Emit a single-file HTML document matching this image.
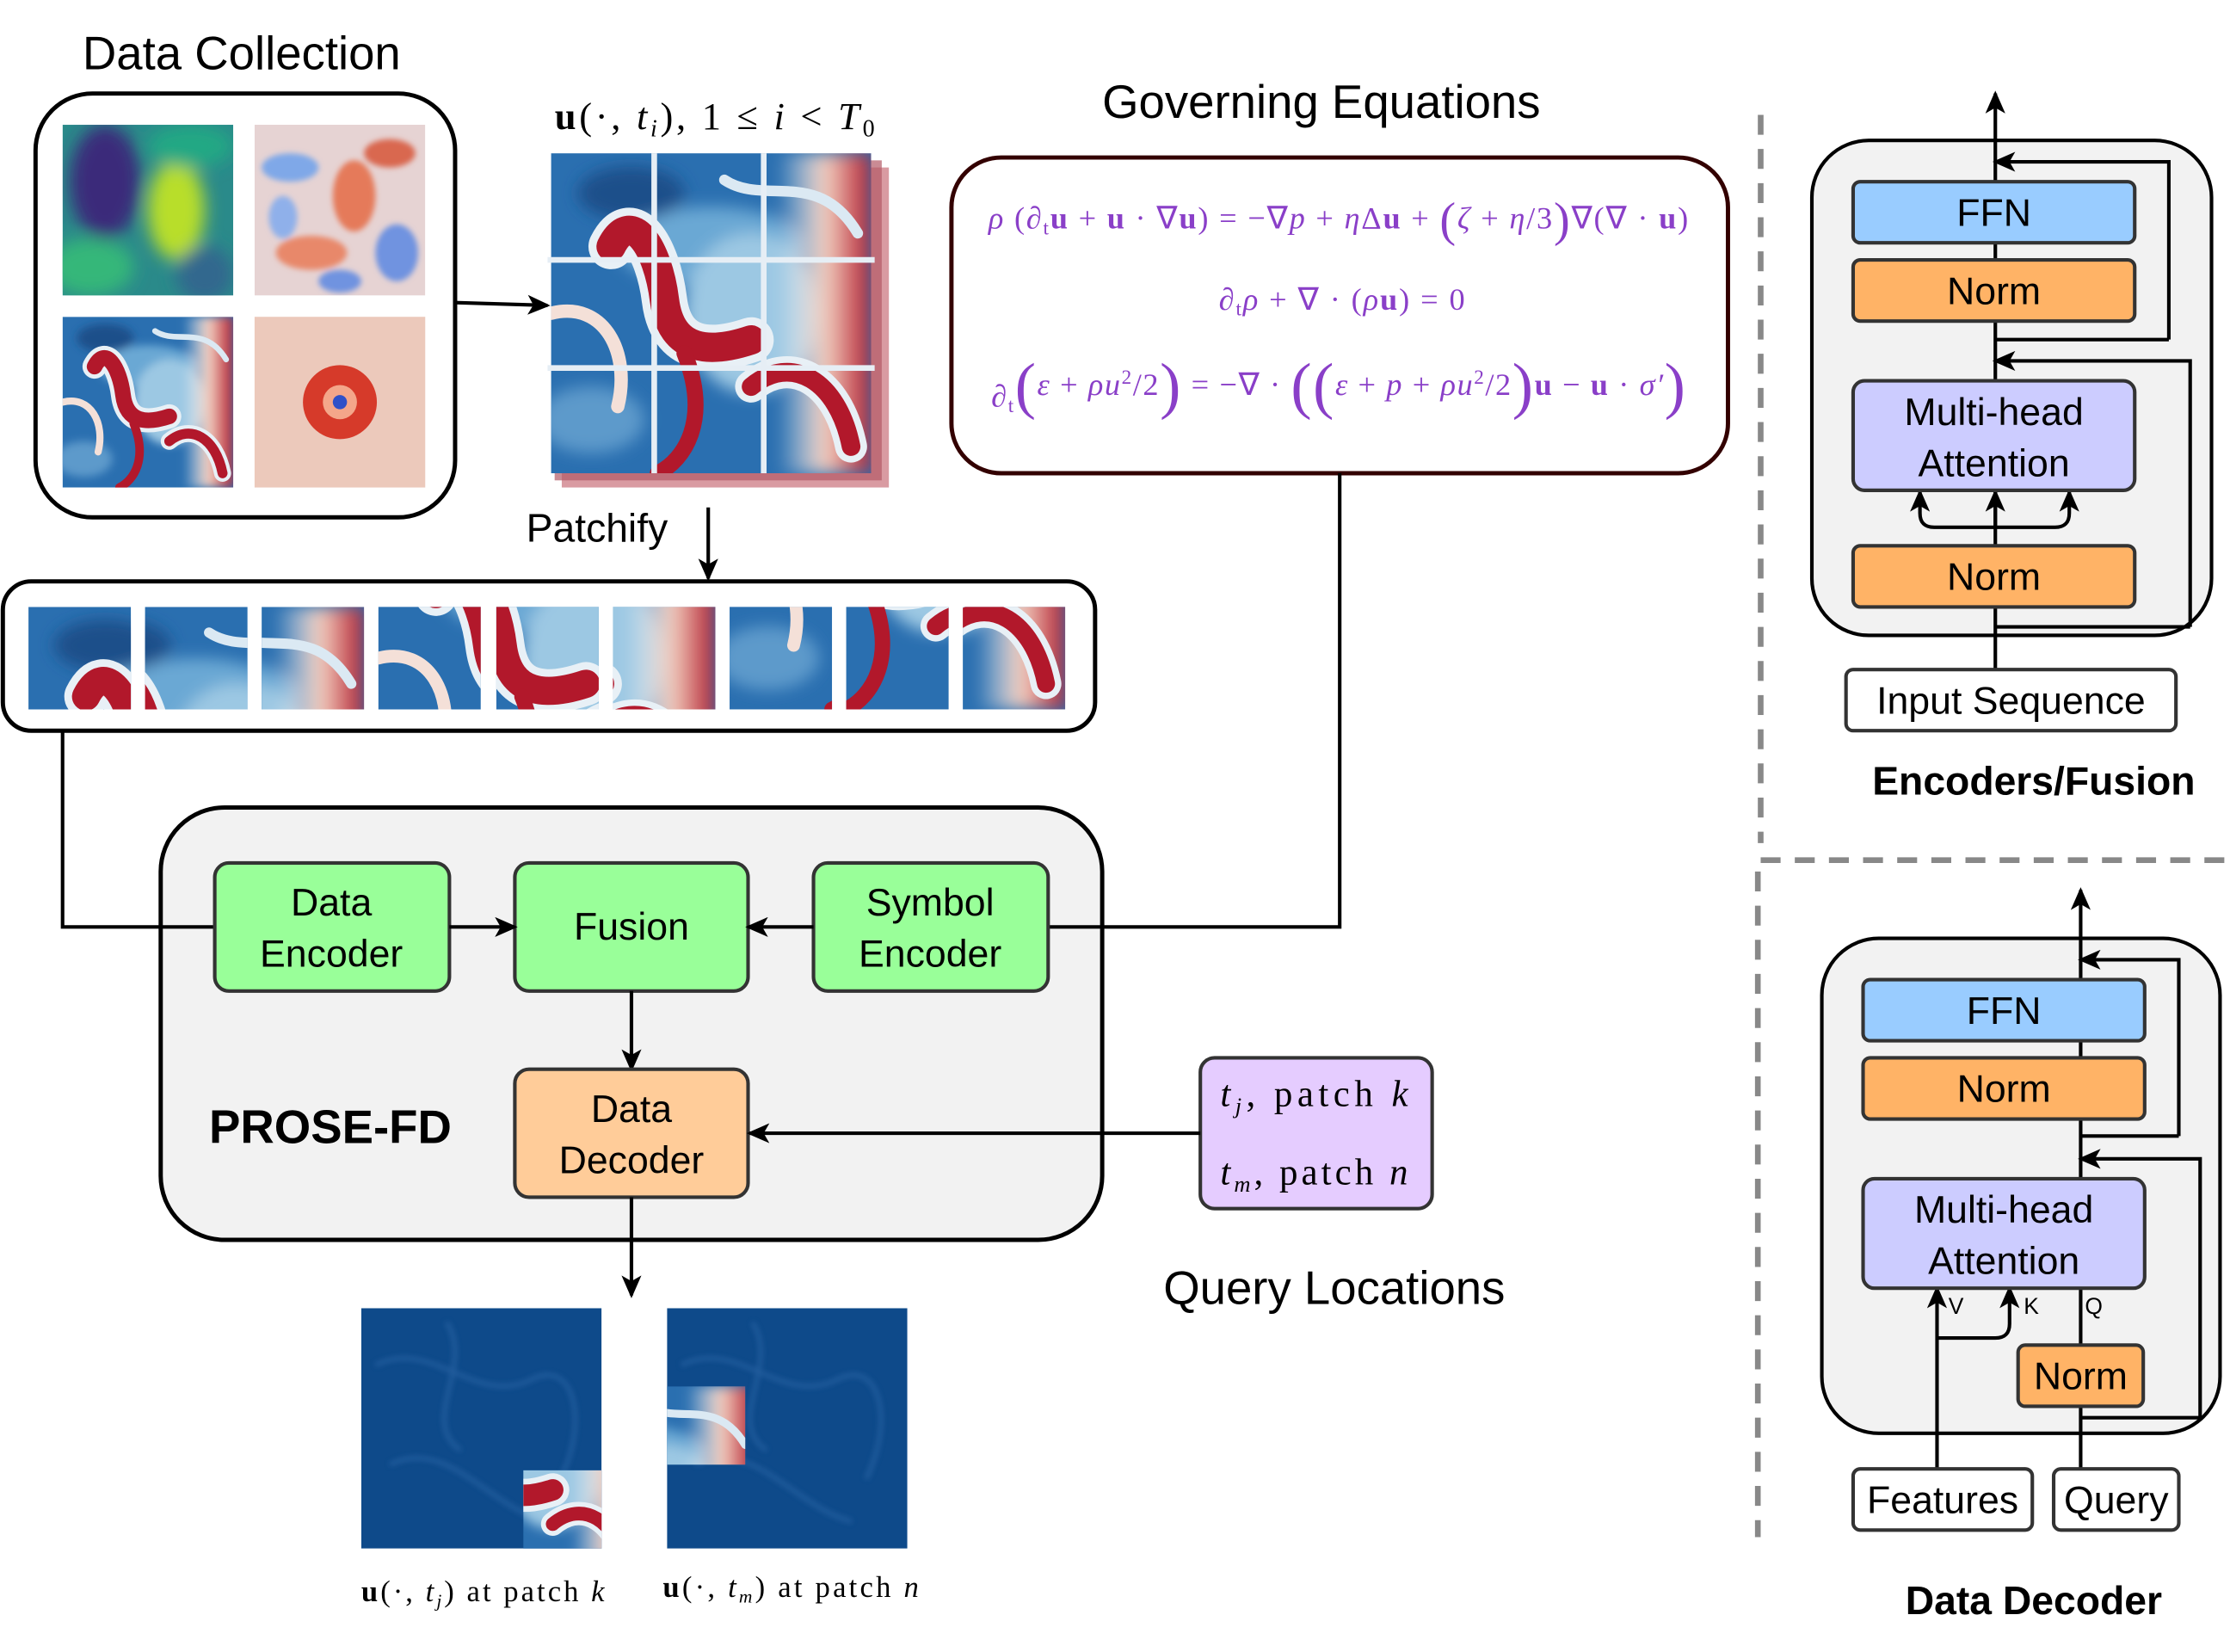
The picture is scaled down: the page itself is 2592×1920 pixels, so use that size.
<!DOCTYPE html>
<html><head><meta charset="utf-8"><style>
html,body{margin:0;padding:0;background:#fff}
svg{display:block}
text{font-family:"Liberation Sans",sans-serif}
.m{font-family:"Liberation Serif",serif;fill:#8a3fc8}
.mb{font-family:"Liberation Serif",serif;fill:#000}
</style></head><body>
<svg width="2592" height="1920" viewBox="0 0 1568 1160" xmlns="http://www.w3.org/2000/svg">
<defs>
<marker id="ar" markerWidth="16" markerHeight="14" refX="14" refY="7" orient="auto" markerUnits="userSpaceOnUse"><path d="M0,0 L16,7 L0,14 L4,7 Z" fill="#000"/></marker>
<filter id="bl" x="-20%" y="-20%" width="140%" height="140%"><feGaussianBlur stdDeviation="6"/></filter>
<filter id="bl2"><feGaussianBlur stdDeviation="2"/></filter>
<linearGradient id="rg" x1="0" x2="1"><stop offset="0" stop-color="#fff" stop-opacity="0"/><stop offset="0.5" stop-color="#f4d0c0"/><stop offset="1" stop-color="#b2182b"/></linearGradient>
<clipPath id="c240"><rect width="240" height="240"/></clipPath>
<g id="flow" clip-path="url(#c240)">
<rect width="240" height="240" fill="#2a6fb0"/>
<g filter="url(#bl)">
<ellipse cx="120" cy="70" rx="70" ry="30" fill="#6aa8d4"/>
<ellipse cx="150" cy="120" rx="50" ry="60" fill="#9cc8e3"/>
<rect x="170" y="0" width="70" height="240" fill="url(#rg)"/>
<ellipse cx="30" cy="200" rx="40" ry="25" fill="#5d9acb"/>
<ellipse cx="60" cy="30" rx="40" ry="20" fill="#1b4f8a"/>
</g>
<g fill="none" stroke-linecap="round">
<path d="M45,70 C60,40 80,70 85,110 C90,150 120,150 150,140" stroke="#e8f0f6" stroke-width="34"/>
<path d="M45,70 C60,40 80,70 85,110 C90,150 120,150 150,140" stroke="#b2182b" stroke-width="22"/>
<path d="M150,175 C180,150 215,170 225,220" stroke="#e8f0f6" stroke-width="24"/>
<path d="M150,175 C180,150 215,170 225,220" stroke="#b2182b" stroke-width="14"/>
<path d="M0,120 C40,110 60,150 50,190" stroke="#f4e0d8" stroke-width="10"/>
<path d="M100,150 C120,200 100,230 80,240" stroke="#b2182b" stroke-width="12"/>
<path d="M130,20 C160,40 200,10 230,60" stroke="#dbe9f3" stroke-width="8"/>
</g>
</g>
<g id="dark">
<rect width="169" height="169" fill="#0e4a8a"/>
<g fill="none" stroke="#2a65a5" stroke-width="3" opacity="0.7" filter="url(#bl2)">
<path d="M10,40 C50,20 80,70 120,50 C150,35 160,80 140,120"/>
<path d="M20,110 C60,90 90,140 130,150"/>
<path d="M60,10 C80,40 40,80 70,100"/>
</g>
</g>
</defs>

<!-- Data Collection -->
<text x="58" y="48" font-size="33">Data Collection</text>
<rect x="25" y="65" width="295" height="298" rx="40" fill="#fff" stroke="#000" stroke-width="3"/>
<svg x="44" y="87" width="120" height="120" viewBox="0 0 120 120">
<rect width="120" height="120" fill="#2a8a8a"/>
<g filter="url(#bl)"><ellipse cx="30" cy="40" rx="25" ry="40" fill="#3b2a7a"/><ellipse cx="80" cy="60" rx="20" ry="35" fill="#b8de29"/><ellipse cx="90" cy="15" rx="30" ry="15" fill="#22a884"/><ellipse cx="20" cy="100" rx="30" ry="20" fill="#35b779"/><ellipse cx="100" cy="105" rx="20" ry="20" fill="#31688e"/></g>
</svg>
<svg x="179" y="87" width="120" height="120" viewBox="0 0 120 120">
<rect width="120" height="120" fill="#e6d3d3"/>
<g filter="url(#bl2)"><ellipse cx="25" cy="30" rx="20" ry="10" fill="#7fa8e8"/><ellipse cx="70" cy="50" rx="15" ry="25" fill="#e57a5a"/><ellipse cx="100" cy="90" rx="15" ry="20" fill="#6f93e0"/><ellipse cx="40" cy="90" rx="25" ry="12" fill="#e8886a"/><ellipse cx="95" cy="20" rx="18" ry="10" fill="#d96850"/><ellipse cx="20" cy="65" rx="10" ry="15" fill="#8fb0ea"/><ellipse cx="60" cy="110" rx="15" ry="8" fill="#6f93e0"/></g>
</svg>
<svg x="44" y="222" width="120" height="120" viewBox="0 0 240 240"><use href="#flow"/></svg>
<rect x="179" y="222" width="120" height="120" fill="#ecc9bb"/>
<circle cx="239" cy="282" r="26" fill="#d63a2a"/>
<circle cx="239" cy="282" r="12" fill="#f4a68a"/>
<circle cx="239" cy="282" r="5" fill="#3050c8"/>
<line x1="320" y1="212" x2="385" y2="214" stroke="#000" stroke-width="2.5" marker-end="url(#ar)"/>

<!-- snapshots -->
<text x="390" y="90" class="mb" font-size="27" textLength="225" lengthAdjust="spacing"><tspan font-weight="bold">u</tspan>(·, <tspan font-style="italic">t</tspan><tspan font-size="17" font-style="italic" dy="5">i</tspan><tspan dy="-5">), 1 ≤ </tspan><tspan font-style="italic">i</tspan> &lt; <tspan font-style="italic">T</tspan><tspan font-size="17" dy="5">0</tspan></text>
<rect x="395" y="117" width="230" height="225" fill="#c9707a" opacity="0.7"/>
<rect x="390" y="112" width="230" height="225" fill="#b45a66" opacity="0.7"/>
<svg x="385" y="107" width="230" height="225" viewBox="0 0 240 240"><use href="#flow"/></svg>
<g stroke="#e6eef5" stroke-width="4"><line x1="460" y1="107" x2="460" y2="332"/><line x1="537" y1="107" x2="537" y2="332"/><line x1="385" y1="182" x2="615" y2="182"/><line x1="385" y1="258" x2="615" y2="258"/></g>
<text x="370" y="380" font-size="28">Patchify</text>
<line x1="498" y1="356" x2="498" y2="406" stroke="#000" stroke-width="2.5" marker-end="url(#ar)"/>

<!-- patches -->
<rect x="2" y="408" width="768" height="105" rx="20" fill="#fff" stroke="#000" stroke-width="3"/>
<svg x="20" y="426" width="72" height="72" viewBox="0 0 80 80"><use href="#flow"/></svg>
<svg x="102" y="426" width="72" height="72" viewBox="80 0 80 80"><use href="#flow"/></svg>
<svg x="184" y="426" width="72" height="72" viewBox="160 0 80 80"><use href="#flow"/></svg>
<svg x="266" y="426" width="72" height="72" viewBox="0 80 80 80"><use href="#flow"/></svg>
<svg x="349" y="426" width="72" height="72" viewBox="80 80 80 80"><use href="#flow"/></svg>
<svg x="431" y="426" width="72" height="72" viewBox="160 80 80 80"><use href="#flow"/></svg>
<svg x="513" y="426" width="72" height="72" viewBox="0 160 80 80"><use href="#flow"/></svg>
<svg x="595" y="426" width="72" height="72" viewBox="80 160 80 80"><use href="#flow"/></svg>
<svg x="677" y="426" width="72" height="72" viewBox="160 160 80 80"><use href="#flow"/></svg>

<!-- Governing equations -->
<text x="775" y="82" font-size="33">Governing Equations</text>
<rect x="669" y="110" width="546" height="222" rx="35" fill="#fff" stroke="#330000" stroke-width="3"/>
<text x="695" y="160" class="m" font-size="22" textLength="492" lengthAdjust="spacing"><tspan font-style="italic">ρ</tspan> (∂<tspan font-size="14" dy="4">t</tspan><tspan dy="-4" font-weight="bold">u</tspan> + <tspan font-weight="bold">u</tspan> · ∇<tspan font-weight="bold">u</tspan>) = −∇<tspan font-style="italic">p</tspan> + <tspan font-style="italic">η</tspan>Δ<tspan font-weight="bold">u</tspan> + <tspan font-size="34" dy="5">(</tspan><tspan dy="-5" font-style="italic">ζ</tspan> + <tspan font-style="italic">η</tspan>/3<tspan font-size="34" dy="5">)</tspan><tspan dy="-5">∇(∇ · </tspan><tspan font-weight="bold">u</tspan>)</text>
<text x="857" y="217" class="m" font-size="22" textLength="173" lengthAdjust="spacing">∂<tspan font-size="14" dy="4">t</tspan><tspan dy="-4" font-style="italic">ρ</tspan> + ∇ · (<tspan font-style="italic">ρ</tspan><tspan font-weight="bold">u</tspan>) = 0</text>
<text x="697" y="285" class="m" font-size="22" textLength="488" lengthAdjust="spacing">∂<tspan font-size="14" dy="4">t</tspan><tspan dy="-4" font-size="44" dy="8">(</tspan><tspan dy="-8" font-style="italic">ε</tspan> + <tspan font-style="italic">ρu</tspan><tspan font-size="14" dy="-8">2</tspan><tspan dy="8">/2</tspan><tspan font-size="44" dy="8">)</tspan><tspan dy="-8"> = −∇ · </tspan><tspan font-size="44" dy="8">((</tspan><tspan dy="-8" font-style="italic">ε</tspan> + <tspan font-style="italic">p</tspan> + <tspan font-style="italic">ρu</tspan><tspan font-size="14" dy="-8">2</tspan><tspan dy="8">/2</tspan><tspan font-size="44" dy="8">)</tspan><tspan dy="-8" font-weight="bold">u</tspan> − <tspan font-weight="bold">u</tspan> · <tspan font-style="italic">σ′</tspan><tspan font-size="44" dy="8">)</tspan></text>

<!-- PROSE-FD -->
<rect x="113" y="567" width="662" height="304" rx="45" fill="#f2f2f2" stroke="#000" stroke-width="3"/>
<polyline points="44,513 44,651 151,651" fill="none" stroke="#000" stroke-width="2.5"/>
<polyline points="942,332 942,651 737,651" fill="none" stroke="#000" stroke-width="2.5"/>
<rect x="151" y="606" width="165" height="90" rx="10" fill="#99ff99" stroke="#333" stroke-width="2.5"/>
<rect x="362" y="606" width="164" height="90" rx="10" fill="#99ff99" stroke="#333" stroke-width="2.5"/>
<rect x="572" y="606" width="165" height="90" rx="10" fill="#99ff99" stroke="#333" stroke-width="2.5"/>
<text font-size="27" text-anchor="middle"><tspan x="233" y="643">Data</tspan><tspan x="233" y="679">Encoder</tspan></text>
<text x="444" y="660" font-size="27" text-anchor="middle">Fusion</text>
<text font-size="27" text-anchor="middle"><tspan x="654" y="643">Symbol</tspan><tspan x="654" y="679">Encoder</tspan></text>
<line x1="316" y1="651" x2="362" y2="651" stroke="#000" stroke-width="2.5" marker-end="url(#ar)"/>
<line x1="572" y1="651" x2="526" y2="651" stroke="#000" stroke-width="2.5" marker-end="url(#ar)"/>
<line x1="444" y1="696" x2="444" y2="751" stroke="#000" stroke-width="2.5" marker-end="url(#ar)"/>
<rect x="362" y="751" width="164" height="90" rx="10" fill="#ffcc99" stroke="#333" stroke-width="2.5"/>
<text font-size="27" text-anchor="middle"><tspan x="444" y="788">Data</tspan><tspan x="444" y="824">Decoder</tspan></text>
<text x="147" y="803" font-size="33" font-weight="bold">PROSE-FD</text>
<rect x="844" y="743" width="163" height="106" rx="10" fill="#e5ccff" stroke="#333" stroke-width="2.5"/>
<text x="858" y="777" class="mb" font-size="26" textLength="132" lengthAdjust="spacing"><tspan font-style="italic">t</tspan><tspan font-size="16" font-style="italic" dy="5">j</tspan><tspan dy="-5">, patch </tspan><tspan font-style="italic">k</tspan></text>
<text x="858" y="832" class="mb" font-size="26" textLength="132" lengthAdjust="spacing"><tspan font-style="italic">t</tspan><tspan font-size="16" font-style="italic" dy="5">m</tspan><tspan dy="-5">, patch </tspan><tspan font-style="italic">n</tspan></text>
<line x1="844" y1="796" x2="527" y2="796" stroke="#000" stroke-width="2.5" marker-end="url(#ar)"/>
<text x="818" y="916" font-size="33">Query Locations</text>
<line x1="444" y1="841" x2="444" y2="910" stroke="#000" stroke-width="2.5" marker-end="url(#ar)"/>

<!-- outputs -->
<svg x="254" y="919" width="169" height="169"><use href="#dark"/></svg>
<svg x="368" y="1033" width="55" height="55" viewBox="120 120 80 80"><use href="#flow"/></svg>
<svg x="469" y="919" width="169" height="169"><use href="#dark"/></svg>
<svg x="469" y="974" width="55" height="55" viewBox="150 0 80 80"><use href="#flow"/></svg>
<text x="254" y="1125" class="mb" font-size="21" textLength="171" lengthAdjust="spacing"><tspan font-weight="bold">u</tspan>(·, <tspan font-style="italic">t</tspan><tspan font-size="13" font-style="italic" dy="4">j</tspan><tspan dy="-4">) at patch </tspan><tspan font-style="italic">k</tspan></text>
<text x="466" y="1122" class="mb" font-size="21" textLength="180" lengthAdjust="spacing"><tspan font-weight="bold">u</tspan>(·, <tspan font-style="italic">t</tspan><tspan font-size="13" font-style="italic" dy="4">m</tspan><tspan dy="-4">) at patch </tspan><tspan font-style="italic">n</tspan></text>

<!-- dashed dividers -->
<g stroke="#888" stroke-width="4" stroke-dasharray="14,10" fill="none">
<line x1="1238" y1="80" x2="1238" y2="592"/>
<line x1="1238" y1="604" x2="1568" y2="604"/>
<line x1="1236" y1="612" x2="1236" y2="1080"/>
</g>

<!-- Encoder block -->
<rect x="1274" y="98" width="281" height="348" rx="40" fill="#f2f2f2" stroke="#000" stroke-width="2.5"/>
<g fill="none" stroke="#000" stroke-width="2.5">
<line x1="1403" y1="470" x2="1403" y2="65" marker-end="url(#ar)"/>
<polyline points="1525,238 1525,113 1403,113" marker-end="url(#ar)"/>
<polyline points="1403,238 1525,238"/>
<polyline points="1540,440 1540,253 1403,253" marker-end="url(#ar)"/>
<polyline points="1403,440 1540,440"/>
<path d="M1403,370 L1360,370 Q1350,370 1350,360 L1350,345" marker-end="url(#ar)"/>
<path d="M1403,370 L1445,370 Q1455,370 1455,360 L1455,345" marker-end="url(#ar)"/>
<line x1="1403" y1="370" x2="1403" y2="345" marker-end="url(#ar)"/>
</g>
<rect x="1303" y="127" width="198" height="43" rx="5" fill="#99ccff" stroke="#333" stroke-width="2.5"/>
<rect x="1303" y="182" width="198" height="43" rx="5" fill="#ffb366" stroke="#333" stroke-width="2.5"/>
<rect x="1303" y="267" width="198" height="77" rx="8" fill="#ccccff" stroke="#333" stroke-width="2.5"/>
<rect x="1303" y="383" width="198" height="43" rx="5" fill="#ffb366" stroke="#333" stroke-width="2.5"/>
<rect x="1298" y="470" width="232" height="43" rx="5" fill="#fff" stroke="#333" stroke-width="2.5"/>
<text x="1402" y="158" font-size="27" text-anchor="middle">FFN</text>
<text x="1402" y="213" font-size="27" text-anchor="middle">Norm</text>
<text font-size="27" text-anchor="middle"><tspan x="1402" y="298">Multi-head</tspan><tspan x="1402" y="334">Attention</tspan></text>
<text x="1402" y="414" font-size="27" text-anchor="middle">Norm</text>
<text x="1414" y="501" font-size="27" text-anchor="middle">Input Sequence</text>
<text x="1430" y="558" font-size="28" font-weight="bold" text-anchor="middle">Encoders/Fusion</text>

<!-- Decoder block -->
<rect x="1281" y="659" width="280" height="348" rx="40" fill="#f2f2f2" stroke="#000" stroke-width="2.5"/>
<g fill="none" stroke="#000" stroke-width="2.5">
<line x1="1463" y1="1032" x2="1463" y2="625" marker-end="url(#ar)"/>
<polyline points="1532,798 1532,674 1463,674" marker-end="url(#ar)"/>
<polyline points="1463,798 1532,798"/>
<polyline points="1547,996 1547,814 1463,814" marker-end="url(#ar)"/>
<polyline points="1463,996 1547,996"/>
<line x1="1362" y1="1032" x2="1362" y2="905" marker-end="url(#ar)"/>
<path d="M1362,940 L1403,940 Q1413,940 1413,930 L1413,905" marker-end="url(#ar)"/>
</g>
<rect x="1310" y="688" width="198" height="43" rx="5" fill="#99ccff" stroke="#333" stroke-width="2.5"/>
<rect x="1310" y="743" width="198" height="43" rx="5" fill="#ffb366" stroke="#333" stroke-width="2.5"/>
<rect x="1310" y="828" width="198" height="77" rx="8" fill="#ccccff" stroke="#333" stroke-width="2.5"/>
<rect x="1419" y="945" width="88" height="43" rx="5" fill="#ffb366" stroke="#333" stroke-width="2.5"/>
<rect x="1303" y="1032" width="126" height="43" rx="5" fill="#fff" stroke="#333" stroke-width="2.5"/>
<rect x="1444" y="1032" width="88" height="43" rx="5" fill="#fff" stroke="#333" stroke-width="2.5"/>
<text x="1409" y="719" font-size="27" text-anchor="middle">FFN</text>
<text x="1409" y="774" font-size="27" text-anchor="middle">Norm</text>
<text font-size="27" text-anchor="middle"><tspan x="1409" y="859">Multi-head</tspan><tspan x="1409" y="895">Attention</tspan></text>
<text x="1463" y="976" font-size="27" text-anchor="middle">Norm</text>
<text x="1366" y="1063" font-size="27" text-anchor="middle">Features</text>
<text x="1488" y="1063" font-size="27" text-anchor="middle">Query</text>
<text x="1370" y="923" font-size="16">V</text>
<text x="1423" y="923" font-size="16">K</text>
<text x="1466" y="923" font-size="16">Q</text>
<text x="1430" y="1134" font-size="28" font-weight="bold" text-anchor="middle">Data Decoder</text>
</svg>
</body></html>
